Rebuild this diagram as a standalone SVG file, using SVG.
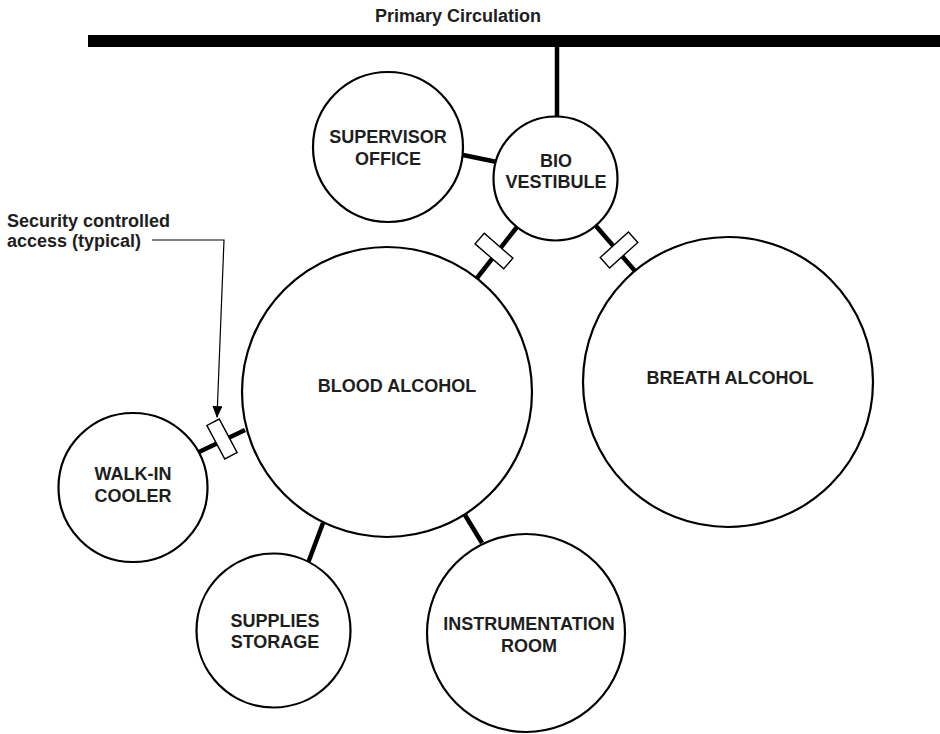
<svg xmlns="http://www.w3.org/2000/svg" width="940" height="734" viewBox="0 0 940 734">
  <style>
    .room { fill: #ffffff; stroke: #000000; stroke-width: 2.2; }
    .link { stroke: #000000; stroke-width: 4.5; fill: none; }
    .door { fill: #ffffff; stroke: #000000; stroke-width: 1.4; }
    .label { font-family: "Liberation Sans", Arial, sans-serif; font-weight: bold; font-size: 18px; fill: #1e1e1e; text-anchor: middle; }
    .note { font-family: "Liberation Sans", Arial, sans-serif; font-weight: bold; font-size: 18px; fill: #1e1e1e; }
    .leader { stroke: #000000; stroke-width: 1.2; fill: none; }
  </style>
  <defs>
    <marker id="arrow" viewBox="0 0 12 10" refX="11" refY="5" markerWidth="12" markerHeight="10" markerUnits="userSpaceOnUse" orient="auto">
      <path d="M0,0 L12,5 L0,10 Z" fill="#000000"/>
    </marker>
    <rect id="doorRect" class="door" x="-19" y="-7" width="38" height="14"/>
  </defs>

  <rect width="940" height="734" fill="#ffffff"/>

  <!-- corridor -->
  <g id="primary-circulation">
    <rect x="88" y="35" width="852" height="12" fill="#000000"/>
    <text class="label" x="458" y="22" font-size="17.5">Primary Circulation</text>
  </g>

  <!-- connections between rooms -->
  <g id="connectors">
    <line class="link" x1="557" y1="46" x2="557" y2="118" stroke-width="3.5"/>
    <line class="link" x1="463" y1="155" x2="497" y2="162"/>
    <line class="link" x1="517" y1="227" x2="477" y2="278"/>
    <line class="link" x1="596" y1="226" x2="635" y2="271"/>
    <line class="link" x1="199" y1="452" x2="245" y2="430"/>
    <line class="link" x1="323" y1="523" x2="308" y2="563"/>
    <line class="link" x1="465" y1="515" x2="482" y2="543"/>
    <!-- controlled doors -->
    <use href="#doorRect" transform="translate(494 251) rotate(41)"/>
    <use href="#doorRect" transform="translate(619 250) rotate(-42)"/>
    <use href="#doorRect" transform="translate(222 439) rotate(62)"/>
  </g>

  <g id="supervisor-office">
    <circle class="room" cx="388" cy="147" r="75"/>
    <text class="label" x="388" y="143">SUPERVISOR</text>
    <text class="label" x="388" y="165">OFFICE</text>
  </g>

  <g id="bio-vestibule">
    <circle class="room" cx="555.5" cy="178.5" r="62"/>
    <text class="label" x="556" y="167">BIO</text>
    <text class="label" x="556" y="188">VESTIBULE</text>
  </g>

  <g id="blood-alcohol">
    <circle class="room" cx="387" cy="392" r="145"/>
    <text class="label" x="397" y="392">BLOOD ALCOHOL</text>
  </g>

  <g id="breath-alcohol">
    <circle class="room" cx="728" cy="382" r="145"/>
    <text class="label" x="730" y="384">BREATH ALCOHOL</text>
  </g>

  <g id="walk-in-cooler">
    <circle class="room" cx="133" cy="487.5" r="74.5"/>
    <text class="label" x="133" y="480">WALK-IN</text>
    <text class="label" x="133" y="502">COOLER</text>
  </g>

  <g id="supplies-storage">
    <circle class="room" cx="273.5" cy="630.5" r="77"/>
    <text class="label" x="275" y="627">SUPPLIES</text>
    <text class="label" x="275" y="648">STORAGE</text>
  </g>

  <g id="instrumentation-room">
    <circle class="room" cx="526" cy="633" r="99"/>
    <text class="label" x="529" y="630">INSTRUMENTATION</text>
    <text class="label" x="529" y="652">ROOM</text>
  </g>

  <!-- callout -->
  <g id="security-note">
    <text class="note" x="7" y="227">Security controlled</text>
    <text class="note" x="7" y="247">access (typical)</text>
    <polyline class="leader" points="152,240 224,240 217,417" marker-end="url(#arrow)"/>
  </g>
</svg>
